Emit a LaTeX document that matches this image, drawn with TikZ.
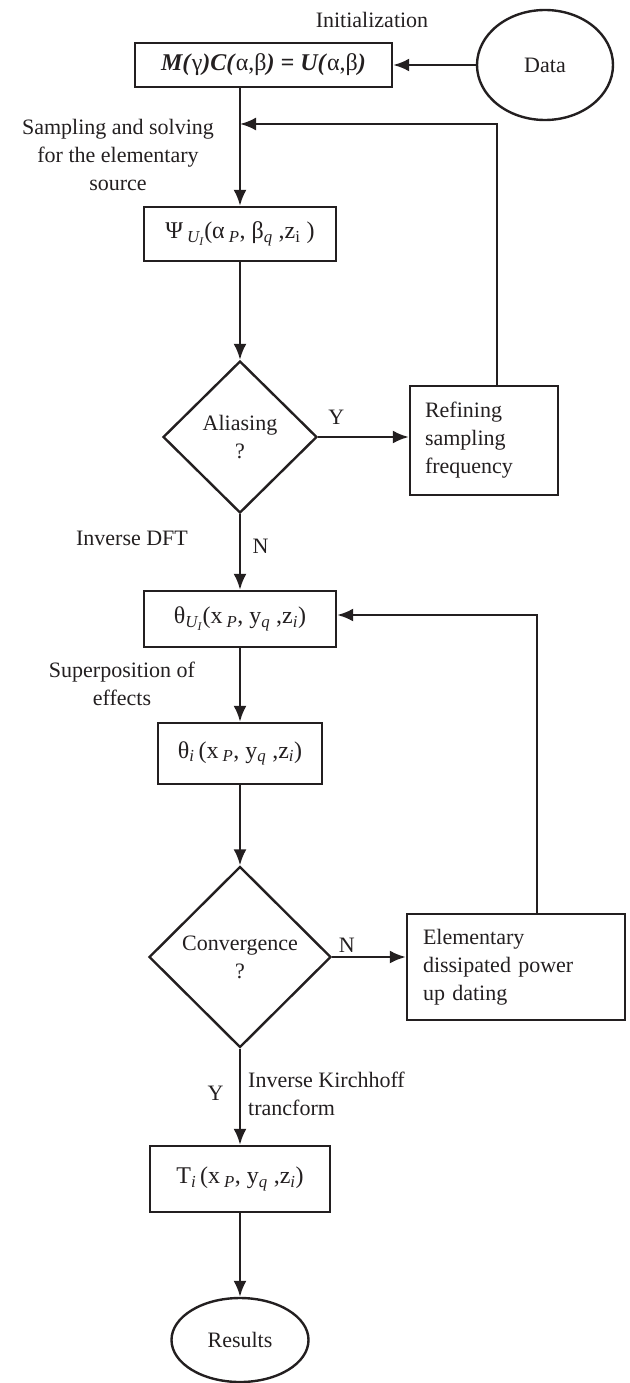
\documentclass[tikz,border=0pt]{standalone}
\usepackage{fontspec}
\setmainfont{Liberation Serif}
\usetikzlibrary{positioning}
\usetikzlibrary{shapes.geometric, arrows.meta}
\definecolor{ink}{HTML}{231F20}
\newcommand{\sub}[1]{\textsubscript{\textit{#1}}}

\begin{document}
\begin{tikzpicture}[x=1pt,y=-1pt,->,>={Latex[length=16pt,width=13pt]},line width=2.4pt,
                color=ink,font=\fontsize{22}{28}\selectfont,
                block/.style={rectangle,draw,inner sep=0pt},
                decision/.style={diamond,draw,inner sep=0pt,align=center},
                terminal/.style={ellipse,draw,inner sep=0pt},
                note/.style={align=center,inner sep=0pt},
                formula/.style={font=\fontsize{24}{28}\selectfont}]
  \useasboundingbox (0,0) rectangle (629,1383);

  \node[block,formula,minimum width=257pt,minimum height=44pt] (model) at (263.5,65)
    {\textbf{\textit{M(}}γ\textbf{\textit{)C(}}α,β\textbf{\textit{) = U(}}α,β\textbf{\textit{)}}};
  \node[terminal,minimum width=136pt,minimum height=110pt] (data) at (545,65) {Data};
  \node[block,formula,minimum width=192pt,minimum height=54pt] (psi) at (240,234)
    {Ψ\,\sub{U\textsubscript{I}}(α\,\sub{P}, β\sub{q} ,z\textsubscript{i} )};
  \node[decision,minimum width=154pt,minimum height=152pt] (alias) at (240,437) {Aliasing\\?};
  \node[block,align=left,minimum width=148pt,minimum height=109pt,text width=118pt] (refine) at (484,440.5)
    {Refining\\sampling\\frequency};
  \node[block,formula,minimum width=192pt,minimum height=56pt] (theta) at (240,619)
    {θ\sub{U\textsubscript{I}}(x\,\sub{P}, y\sub{q} ,z\sub{i})};
  \node[block,formula,minimum width=164pt,minimum height=61pt] (thetai) at (240,753.5)
    {θ\sub{i}\,(x\,\sub{P}, y\sub{q} ,z\sub{i})};
  \node[decision,minimum width=182pt,minimum height=181pt] (conv) at (240,957) {Convergence\\?};
  \node[block,align=left,minimum width=218pt,minimum height=106pt,text width=186pt] (update) at (516,967)
    {Elementary\\dissipated power\\up dating};
  \node[block,formula,minimum width=180pt,minimum height=66pt] (temp) at (240,1179)
    {T\sub{i}\,(x\,\sub{P}, y\sub{q} ,z\sub{i})};
  \node[terminal,minimum width=137pt,minimum height=84pt] (results) at (240,1340) {Results};

  \node[note] (init) at (372,20) {Initialization};
  \node[note] (sampling) at (118,155) {Sampling and solving\\for the elementary\\source};
  \node[note] (idft) at (132,538) {Inverse DFT};
  \node[note] (superpos) at (122,684) {Superposition of\\effects};
  \node[note,align=left,anchor=west] (kirch) at (247,1094) {Inverse Kirchhoff\\trancform};

  \coordinate (back1) at (497,124);
  \coordinate (back2) at (537,615);

  \path
    (data) edge (model)
    (model.south -| psi.north) edge (psi)
    (psi) edge (alias)
    (alias.east) edge node[above,pos=0.2,yshift=8pt] {Y} (alias.east -| refine.west)
    (alias) edge node[right,pos=0.42,xshift=8pt] {N} (theta)
    (theta) edge (thetai)
    (thetai) edge (conv)
    (conv.east) edge node[above,pos=0.2] {N} (conv.east -| update.west)
    (conv) edge node[left,pos=0.46,xshift=-12pt] {Y} (temp)
    (temp) edge (results);

  \draw (refine.north -| back1) -- (back1) -- (back1 -| psi.north);
  \draw (update.north -| back2) -- (back2) -- (theta.east |- back2);
\end{tikzpicture}
\end{document}
